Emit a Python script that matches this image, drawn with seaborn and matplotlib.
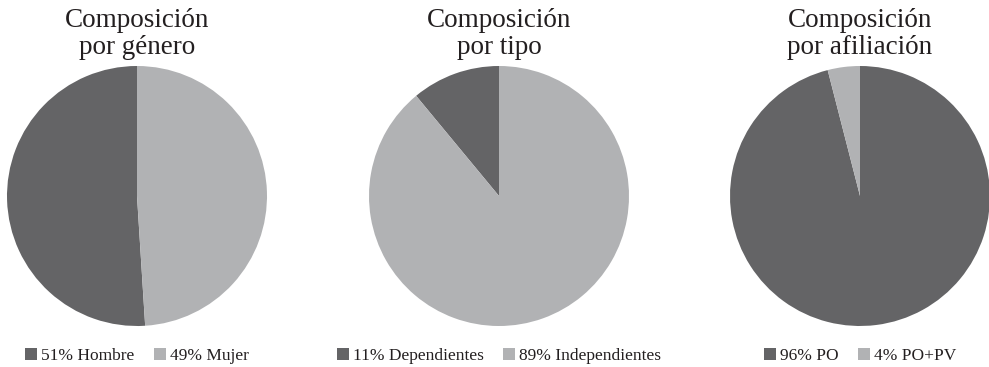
import matplotlib
matplotlib.use("Agg")
import matplotlib.pyplot as plt
from matplotlib.patches import Patch
import seaborn as sns

sns.set_theme(style="white")
plt.rcParams["font.family"] = ["Liberation Serif", "DejaVu Serif"]

# Data
titles = ["Composición\npor género", "Composición\npor tipo", "Composición\npor afiliación"]
genero_labels = ["Hombre", "Mujer"]
genero_values = [51, 49]
tipo_labels = ["Dependientes", "Independientes"]
tipo_values = [11, 89]
afiliacion_labels = ["PO", "PO+PV"]
afiliacion_values = [96, 4]

dark = "#646466"
light = "#b1b2b4"
colors = [dark, light]
text_color = "#231f20"

W, H = 989, 367
fig = plt.figure(figsize=(W / 100, H / 100), dpi=100)
fig.patch.set_facecolor("white")

panels = [
    (genero_labels, genero_values, 137, True),
    (tipo_labels, tipo_values, 499, True),
    (afiliacion_labels, afiliacion_values, 860, False),
]
cy, r = 196, 130

for (labels, values, cx, ccw), title in zip(panels, titles):
    ax = fig.add_axes([(cx - r) / W, (H - cy - r) / H, 2 * r / W, 2 * r / H])
    ax.pie(values, colors=colors, startangle=90, counterclock=ccw,
           radius=1, wedgeprops=dict(linewidth=0))
    ax.set_xlim(-1, 1)
    ax.set_ylim(-1, 1)
    ax.set_aspect("equal")
    ax.axis("off")

    fig.text(cx / W, 1 - 8 / H, title, ha="center", va="top",
             fontsize=19.5, color=text_color, linespacing=1.1)

    handles = [Patch(facecolor=c, edgecolor="none") for c in colors]
    leg_labels = [f"{v}% {lab}" for lab, v in zip(labels, values)]
    fig.legend(handles, leg_labels, loc="center", ncol=2,
               bbox_to_anchor=(cx / W, 1 - 356 / H), frameon=False,
               fontsize=12.5, handlelength=0.7, handleheight=0.7,
               handletextpad=0.25, columnspacing=1.1, labelcolor=text_color,
               borderpad=0, borderaxespad=0)

fig.savefig("out.png", dpi=100, facecolor="white")
